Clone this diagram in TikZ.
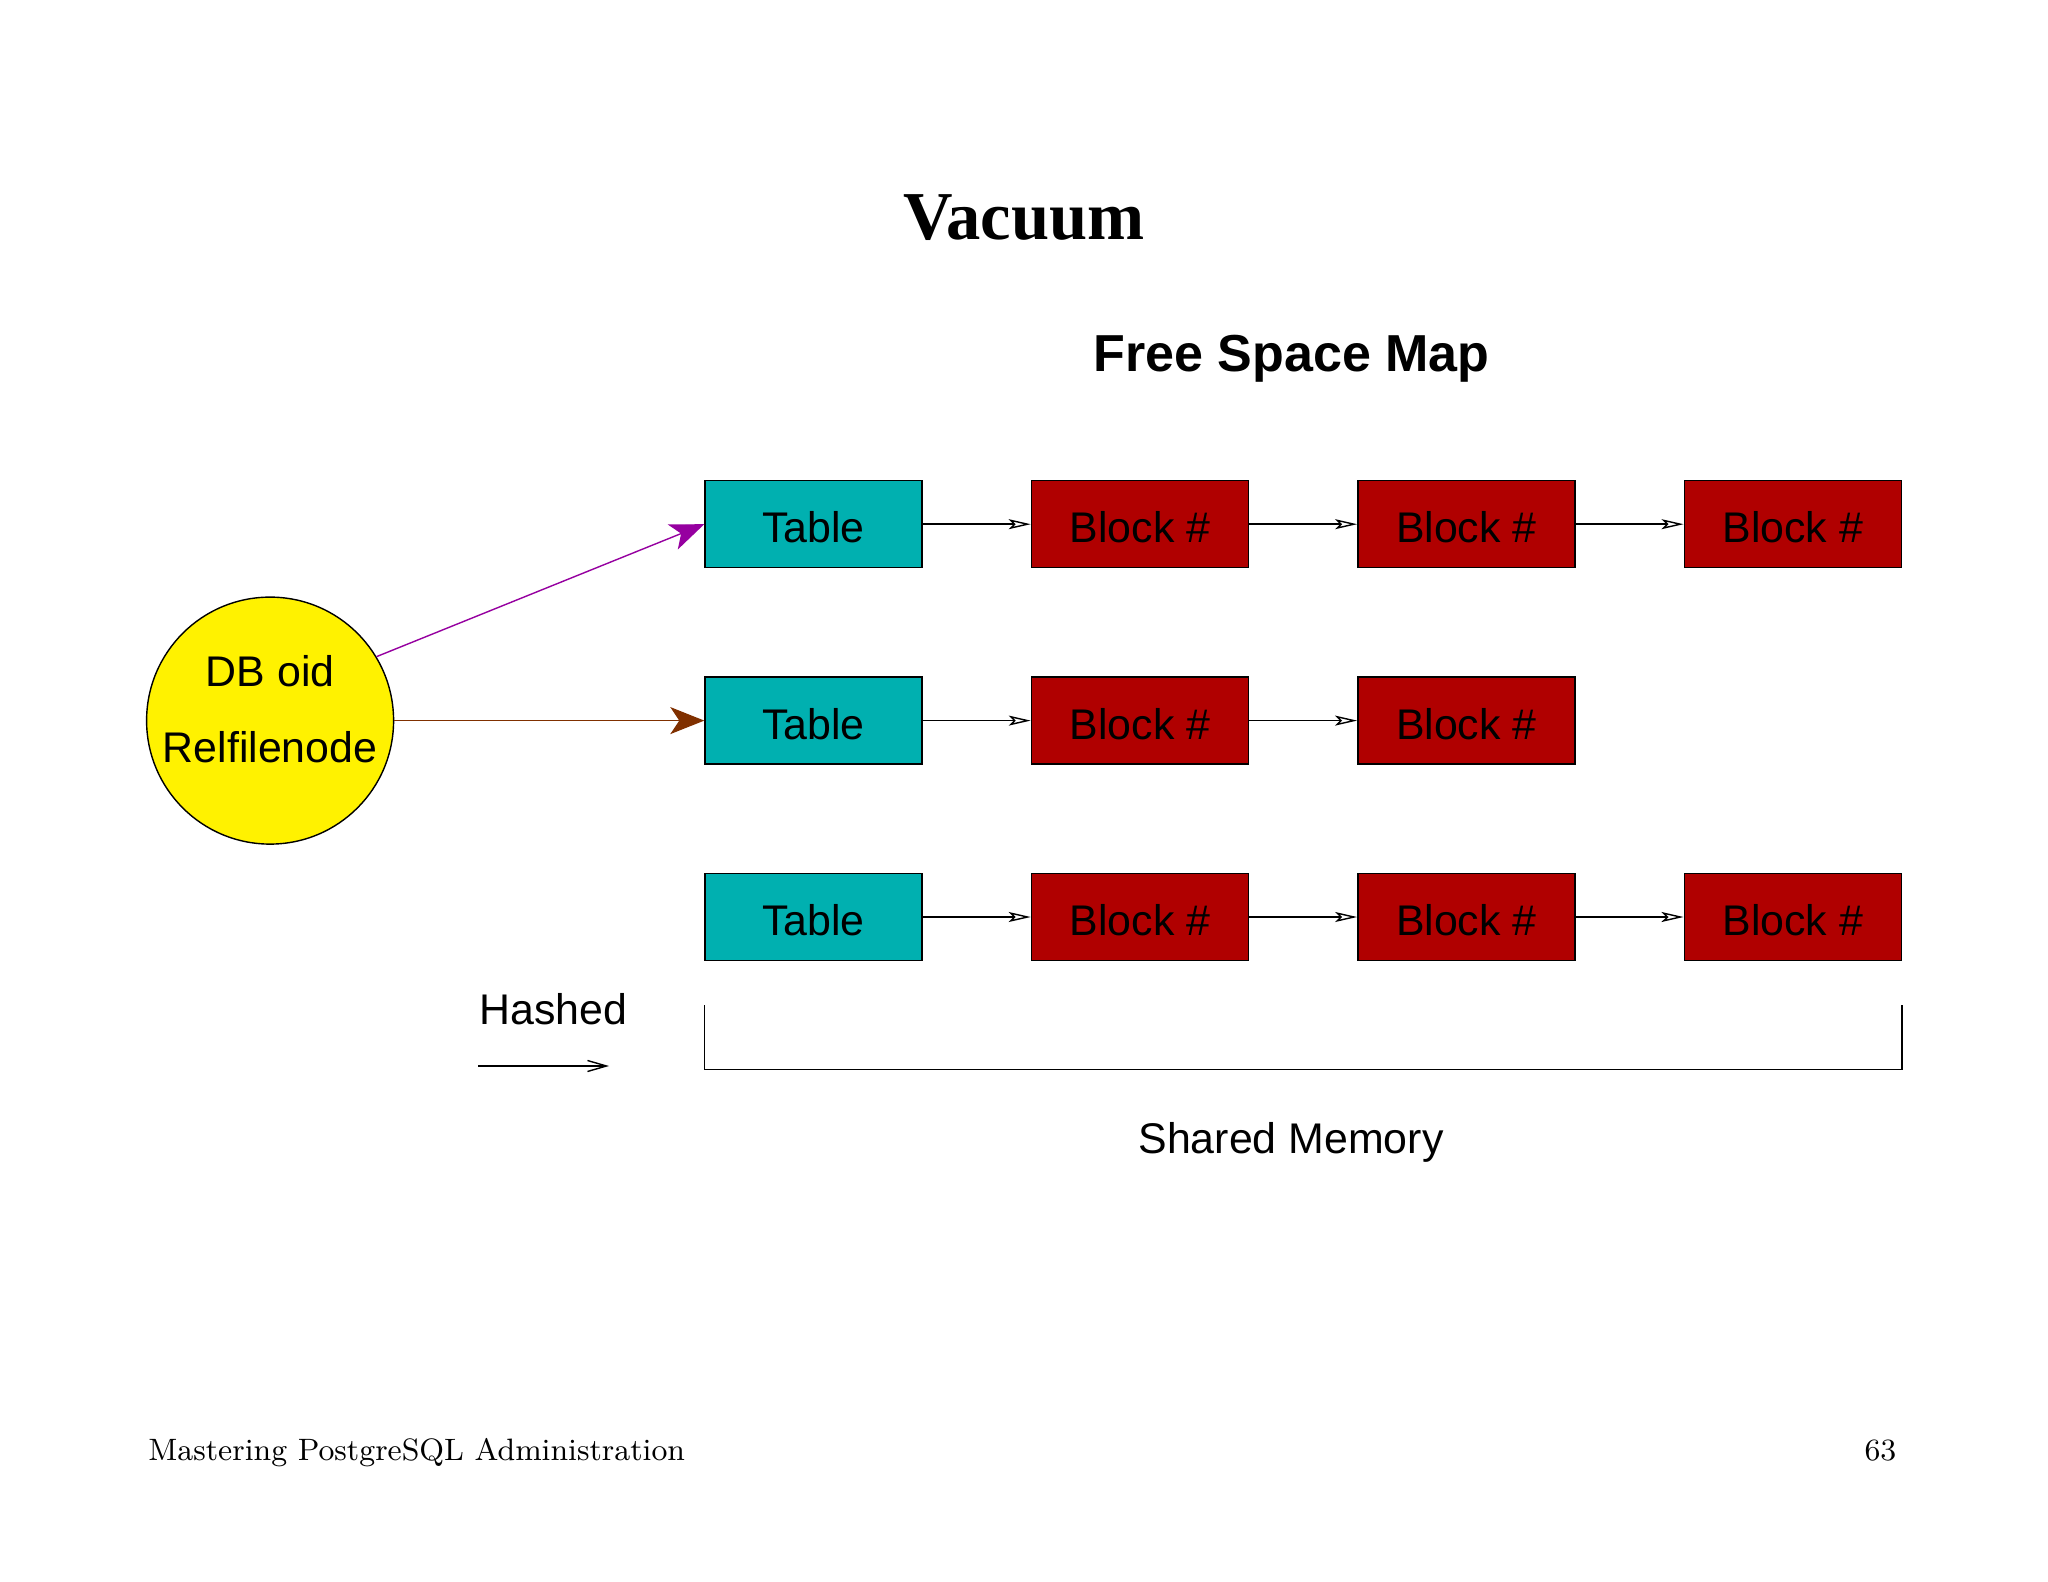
\documentclass[tikz,border=0pt]{standalone}
\usepackage{fontspec}
\newfontfamily\arialfont{Liberation Sans}
\newfontfamily\timesfont{Liberation Serif}
\definecolor{tablecyan}{RGB}{0,176,176}
\definecolor{blockred}{RGB}{176,0,0}
\definecolor{hashpurple}{RGB}{150,0,160}
\definecolor{hashbrown}{RGB}{128,48,0}
\usetikzlibrary{arrows.meta, positioning}

\begin{document}
\begin{tikzpicture}[
        node distance=1.08cm,
        every node/.style={font=\arialfont\fontsize{12.2}{21.6}\selectfont},
        tablebox/.style={rectangle, draw=black, thin, fill=tablecyan, minimum width=2.17cm, minimum height=0.87cm, text height=1.05em, text depth=0pt, inner sep=0pt},
        blockbox/.style={tablebox, fill=blockred},
        dbnode/.style={circle, draw=black, thin, fill=yellow, minimum size=2.47cm, inner sep=0pt},
        link/.style={-{Stealth[open, length=0.22cm, width=0.1cm, inset=0.05cm]}, thin},
        hasharrow/.style={-{Stealth[length=0.34cm, width=0.27cm, inset=0.09cm]}, thin}
    ]
        \path[use as bounding box, fill=white] (0,0) rectangle (20.48,-15.82);

        % headings
        \node[anchor=base, font=\timesfont\bfseries\fontsize{19.5}{24}\selectfont] (title) at (10.24,-2.40) {Vacuum};
        \node[anchor=base, font=\arialfont\bfseries\fontsize{14.8}{18}\selectfont] (fsm) at (12.915,-3.72) {Free Space Map};

        % lists of blocks
        \node[tablebox] (t1) at (8.135,-5.242) {Table};
        \node[blockbox, right=of t1] (b11) {Block \#};
        \node[blockbox, right=of b11] (b12) {Block \#};
        \node[blockbox, right=of b12] (b13) {Block \#};
        \node[tablebox, below=of t1] (t2) {Table};
        \node[blockbox, right=of t2] (b21) {Block \#};
        \node[blockbox, right=of b21] (b22) {Block \#};
        \node[tablebox, below=of t2] (t3) {Table};
        \node[blockbox, right=of t3] (b31) {Block \#};
        \node[blockbox, right=of b31] (b32) {Block \#};
        \node[blockbox, right=of b32] (b33) {Block \#};

        \draw[link] (t1) -- (b11);
        \draw[link] (b11) -- (b12);
        \draw[link] (b12) -- (b13);
        \draw[link] (t2) -- (b21);
        \draw[link] (b21) -- (b22);
        \draw[link] (t3) -- (b31);
        \draw[link] (b31) -- (b32);
        \draw[link] (b32) -- (b33);

        % hash entry
        \node[dbnode, left=3.1cm of t2] (db) {};
        \node[align=center] (dbtext) at ([yshift=0.115cm]db.center) {DB oid\\Relfilenode};
        \draw[hasharrow, hashpurple] (db.31) -- (t1.west);
        \draw[hasharrow, hashbrown] (db) -- (t2);

        % legend
        \node[anchor=base west, inner sep=0pt] (hashed) at (4.79,-10.24) {Hashed};
        \coordinate (h1) at (4.78,-10.66);
        \coordinate (h2) at (6.09,-10.66);
        \draw[-{Straight Barb[length=0.19cm, width=0.11cm]}, thin] (h1) -- (h2);

        % shared memory bracket
        \coordinate (m1) at ([yshift=-0.44cm]t3.south west);
        \coordinate (m2) at ([yshift=-1.08cm]t3.south west);
        \coordinate (m3) at ([yshift=-1.08cm]b33.south east);
        \coordinate (m4) at ([yshift=-0.44cm]b33.south east);
        \draw[thin] (m1) -- (m2) -- (m3) -- (m4);
        \node[anchor=base] (shm) at (12.91,-11.53) {Shared Memory};

        % footer
        \node[anchor=base west, font=\fontsize{8.8}{11}\selectfont, inner sep=0pt] (foot) at (1.476,-14.60) {Mastering PostgreSQL Administration};
        \node[anchor=base east, font=\fontsize{8.8}{11}\selectfont, inner sep=0pt] (page) at (18.97,-14.60) {63};
    \end{tikzpicture}
\end{document}
